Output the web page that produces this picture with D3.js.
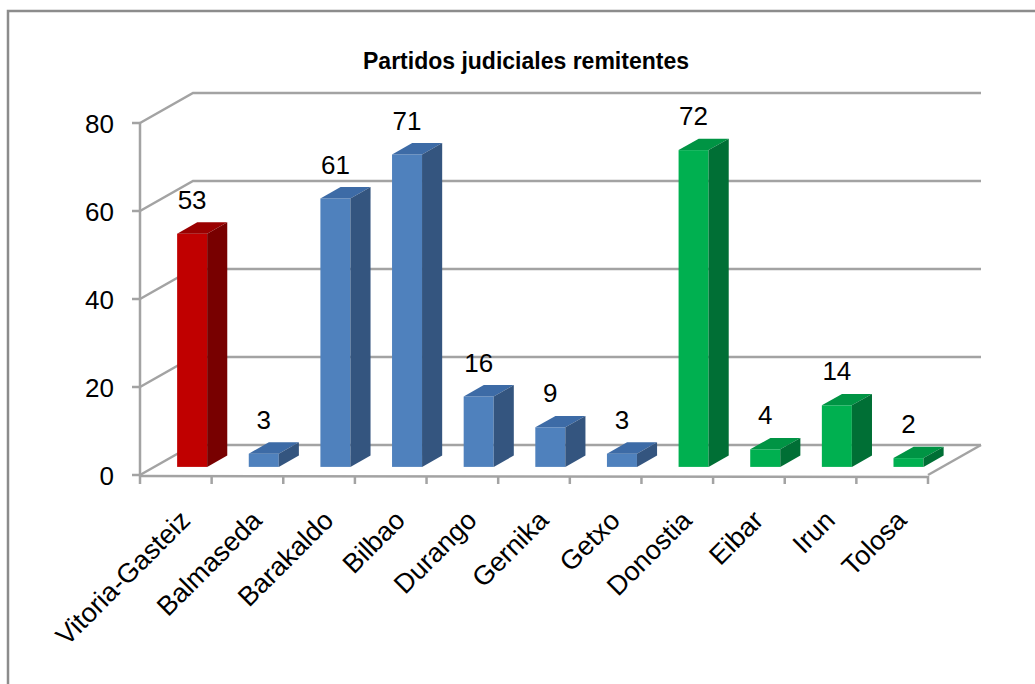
<!DOCTYPE html>
<html>
<head>
<meta charset="utf-8">
<script src="https://cdn.jsdelivr.net/npm/d3@7"></script>
<style>
  body { margin: 0; background: #fff; }
  svg { display: block; }
  text { font-family: "Liberation Sans", Arial, sans-serif; fill: #000; }
</style>
</head>
<body>
<svg id="chart" width="1035" height="684"></svg>
<script>
// partidos judiciales y numero de casos remitidos
const categories = ['Vitoria-Gasteiz', 'Balmaseda', 'Barakaldo', 'Bilbao', 'Durango', 'Gernika',
                    'Getxo', 'Donostia', 'Eibar', 'Irun', 'Tolosa'];
const values = [53, 3, 61, 71, 16, 9, 3, 72, 4, 14, 2];
const territory = ['Araba', 'Bizkaia', 'Bizkaia', 'Bizkaia', 'Bizkaia', 'Bizkaia',
                   'Bizkaia', 'Gipuzkoa', 'Gipuzkoa', 'Gipuzkoa', 'Gipuzkoa'];
const yTicks = [0, 20, 40, 60, 80];
const title = 'Partidos judiciales remitentes';

const svg = d3.select('#chart');

// oblique 3d: depth 0 = front, 1 = back wall
const DX = 53, DY = 30;
const x = d3.scaleBand().domain(categories).range([140, 928]);
const y = d3.scaleLinear().domain([0, 80]).range([475, 123]);

const terr = ['Araba', 'Bizkaia', 'Gipuzkoa'];
const frontColor = d3.scaleOrdinal().domain(terr).range(['#C00000', '#4F81BD', '#00B050']);
const topColor = d3.scaleOrdinal().domain(terr).range(['#9A0000', '#3D6BA6', '#009444']);
const sideColor = d3.scaleOrdinal().domain(terr).range(['#780000', '#34557F', '#006F35']);

// chart border
svg.append('rect')
  .attr('x', 8).attr('y', 11)
  .attr('width', 1040).attr('height', 700)
  .attr('fill', 'none')
  .attr('stroke', '#8c8c8c')
  .attr('stroke-width', 2.5);

svg.append('text')
  .attr('x', 526).attr('y', 69)
  .attr('text-anchor', 'middle')
  .style('font-weight', 'bold')
  .style('font-size', '23px')
  .text(title);

const grid = svg.append('g')
  .attr('stroke', '#a3a3a3')
  .attr('stroke-width', 2.5)
  .attr('fill', 'none');

const x0 = x.range()[0], x1 = x.range()[1];

// back wall lines + left wall diagonals
yTicks.forEach(t => {
  grid.append('path')
    .attr('d', `M${x0},${y(t)}L${x0 + DX},${y(t) - DY}L${x1 + DX},${y(t) - DY}`);
});
// floor right edge
grid.append('path').attr('d', `M${x1},${y(0)}L${x1 + DX},${y(0) - DY}`);

// y axis
const yAxis = svg.append('g');
yAxis.append('line')
  .attr('x1', x0).attr('x2', x0)
  .attr('y1', y(80)).attr('y2', y(0))
  .attr('stroke', '#a3a3a3').attr('stroke-width', 2.5);
yAxis.selectAll('.tick')
  .data(yTicks)
  .join('line')
  .attr('x1', x0 - 8).attr('x2', x0)
  .attr('y1', d => y(d)).attr('y2', d => y(d))
  .attr('stroke', '#a3a3a3').attr('stroke-width', 2.5);
yAxis.selectAll('text')
  .data(yTicks)
  .join('text')
  .attr('x', x0 - 26)
  .attr('y', d => y(d) + 10)
  .attr('text-anchor', 'end')
  .style('font-size', '26px')
  .text(d => d);

// x axis front line and ticks
const xAxis = svg.append('g');
xAxis.append('line')
  .attr('x1', x0).attr('x2', x1)
  .attr('y1', y(0) + 1).attr('y2', y(0) + 2)
  .attr('stroke', '#a3a3a3').attr('stroke-width', 2.5);
const bounds = categories.map(c => x(c)).concat([x1]);
xAxis.selectAll('.tk')
  .data(bounds)
  .join('line')
  .attr('x1', d => d).attr('x2', d => d)
  .attr('y1', y(0) + 1).attr('y2', y(0) + 9)
  .attr('stroke', '#a3a3a3').attr('stroke-width', 2.5);
xAxis.selectAll('text')
  .data(categories)
  .join('text')
  .attr('text-anchor', 'end')
  .attr('transform', d => `translate(${x(d) + x.bandwidth() / 2 + 16},${522}) rotate(-45)`)
  .style('font-size', '27px')
  .text(d => d);

// bars
const z1 = 0.27, zd = 0.38, faceW = 30;
const bars = svg.append('g');
categories.forEach((c, i) => {
  const v = values[i], g = territory[i];
  const L = x(c) + x.bandwidth() / 2 - faceW / 2 + z1 * DX + 2;
  const R = L + faceW;
  const B = y(0) - z1 * DY;
  const T = y(v) - z1 * DY;
  const ox = zd * DX, oy = zd * DY;
  const bar = bars.append('g');
  bar.append('rect')
    .attr('x', L).attr('y', T)
    .attr('width', faceW).attr('height', B - T)
    .attr('fill', frontColor(g));
  bar.append('path')
    .attr('d', `M${L},${T}L${R},${T}L${R + ox},${T - oy}L${L + ox},${T - oy}Z`)
    .attr('fill', topColor(g));
  bar.append('path')
    .attr('d', `M${R},${T}L${R + ox},${T - oy}L${R + ox},${B - oy}L${R},${B}Z`)
    .attr('fill', sideColor(g));
  bar.append('text')
    .attr('x', L + faceW / 2)
    .attr('y', T - 25)
    .attr('text-anchor', 'middle')
    .style('font-size', '26px')
    .text(v);
});
</script>
</body>
</html>
